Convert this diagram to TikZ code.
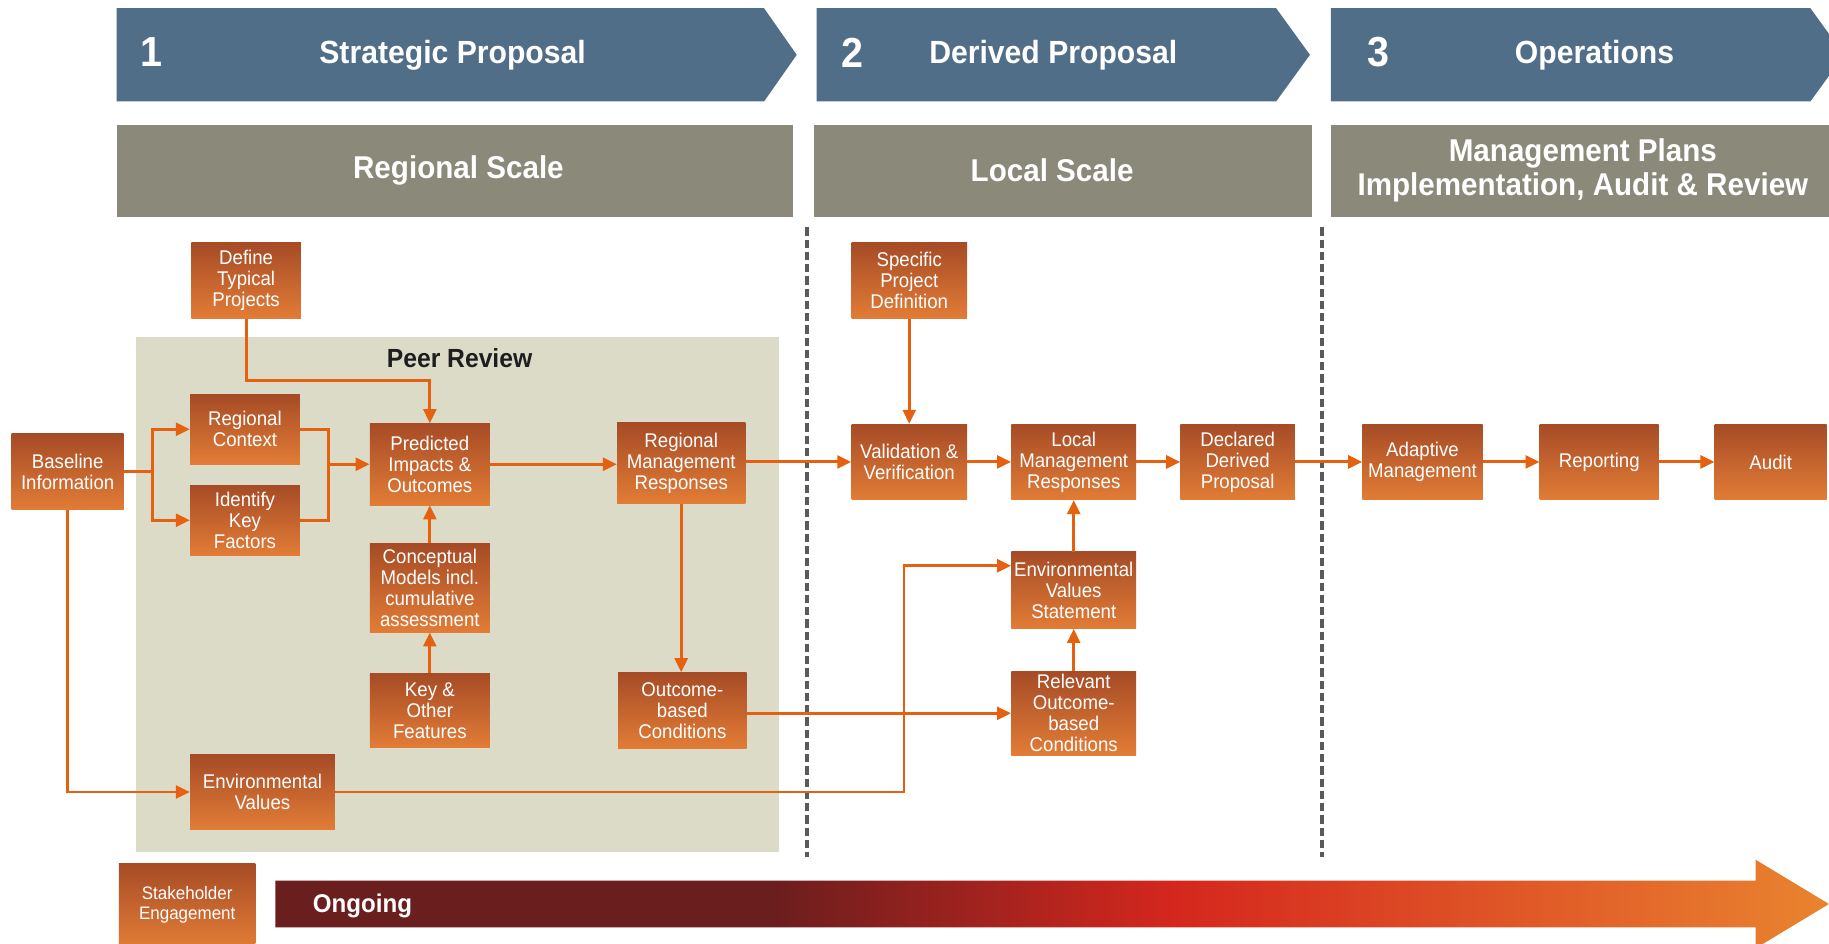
\documentclass[tikz,border=0pt]{standalone}
\usepackage{fontspec}
\setmainfont{Liberation Sans}
\newfontfamily\narrowsans[FakeStretch=0.94]{Liberation Sans}
\usetikzlibrary{arrows.meta}
\definecolor{bannerblue}{HTML}{506E88}
\definecolor{bandgray}{HTML}{8B8979}
\definecolor{peerbg}{HTML}{DCDBC8}
\definecolor{boxtop}{HTML}{A64B26}
\definecolor{boxbot}{HTML}{E27C36}
\definecolor{conn}{HTML}{E5600F}
\definecolor{dashgray}{HTML}{5A5A5A}
\definecolor{ogA}{HTML}{6B1E1E}
\definecolor{ogB}{HTML}{D5271E}
\definecolor{ogC}{HTML}{E9842F}
\definecolor{peertext}{HTML}{1E1E1E}
\pgfdeclarehorizontalshading{ongoing}{100bp}{color(0bp)=(ogA); color(25bp)=(ogA); color(41bp)=(ogA); color(54bp)=(ogB); color(75bp)=(ogC); color(100bp)=(ogC)}
\tikzset{
  box/.style={rectangle, top color=boxtop, bottom color=boxbot, text=white,
    font=\narrowsans\fontsize{17}{18}\selectfont, align=center, inner sep=0pt},
  arr/.style={draw=conn, line width=2.5pt, -{Triangle[length=12pt,width=11pt]}},
  ln/.style={draw=conn, line width=2.5pt},
  bannerfill/.style={fill=bannerblue},
  bandfill/.style={fill=bandgray},
  bannernum/.style={text=white, font=\narrowsans\fontsize{36}{36}\selectfont\bfseries, inner sep=0pt},
  bannertxt/.style={text=white, font=\narrowsans\fontsize{27.5}{30}\selectfont\bfseries, inner sep=0pt, align=center},
  bandtxt/.style={text=white, font=\narrowsans\fontsize{27}{29}\selectfont\bfseries, inner sep=0pt, align=center},
  sepline/.style={draw=dashgray, line width=3.5pt, dash pattern=on 7pt off 3.5pt},
}
\begin{document}
\begin{tikzpicture}[x=1pt,y=-1pt]
\clip (0,0) rectangle (1568,809);
\fill[white] (0,0) rectangle (1568,809);

% banners
\path[bannerfill] (100,7) -- (655,7) -- (683,47) -- (655,87) -- (100,87) -- cycle;
\path[bannerfill] (700,7) -- (1094,7) -- (1123,47) -- (1094,87) -- (700,87) -- cycle;
\path[bannerfill] (1141,7) -- (1552,7) -- (1581,47) -- (1552,87) -- (1141,87) -- cycle;
\node[bannernum] (n1) at (130,45) {1};
\node[bannertxt] (t1) at (388,47) {Strategic Proposal};
\node[bannernum] (n2) at (731,45) {2};
\node[bannertxt] (t2) at (903,47) {Derived Proposal};
\node[bannernum] (n3) at (1182,45) {3};
\node[bannertxt] (t3) at (1367,47) {Operations};

% bands
\path[bandfill] (100,107) rectangle (680,186);
\path[bandfill] (698,107) rectangle (1125,186);
\path[bandfill] (1141,107) rectangle (1570,186);
\node[bandtxt] (b1) at (393,146) {Regional Scale};
\node[bandtxt] (b2) at (902,146) {Local Scale};
\node[bandtxt] (b3) at (1357,146) {Management Plans\\Implementation, Audit \& Review};

% separators
\draw[sepline] (692,195) -- (692,735);
\draw[sepline] (1133,195) -- (1133,735);

% peer review panel
\fill[peerbg] (117,289) rectangle (668,730);
\node[text=peertext, font=\narrowsans\fontsize{22.5}{24}\selectfont\bfseries, inner sep=0pt] (peer) at (394,307) {Peer Review};

% boxes
\node[box, minimum width=94, minimum height=65] (def) at (211,240.5) {Define\\Typical\\Projects};
\node[box, minimum width=94, minimum height=60] (rc) at (210,368) {Regional\\Context};
\node[box, minimum width=96, minimum height=65] (base) at (58,404.5) {Baseline\\Information};
\node[box, minimum width=94, minimum height=60] (ikf) at (210,446) {Identify\\Key\\Factors};
\node[box, minimum width=103, minimum height=70] (pred) at (368.5,398) {Predicted\\Impacts \&\\Outcomes};
\node[box, minimum width=103, minimum height=76] (concept) at (368.5,504) {Conceptual\\Models incl.\\cumulative\\assessment};
\node[box, minimum width=103, minimum height=64] (key) at (368.5,609) {Key \&\\Other\\Features};
\node[box, minimum width=110, minimum height=69] (rmr) at (584,397) {Regional\\Management\\Responses};
\node[box, minimum width=110, minimum height=65] (obc) at (585,609) {Outcome-\\based\\Conditions};
\node[box, minimum width=124, minimum height=64] (ev) at (225,679) {Environmental\\Values};
\node[box, minimum width=99, minimum height=65] (spd) at (779.5,240.5) {Specific\\Project\\Definition};
\node[box, minimum width=99, minimum height=65] (vv) at (779.5,396) {Validation \&\\Verification};
\node[box, minimum width=107, minimum height=65] (lmr) at (920.5,396) {Local\\Management\\Responses};
\node[box, minimum width=98, minimum height=65] (ddp) at (1061,396) {Declared\\Derived\\Proposal};
\node[box, minimum width=107, minimum height=66] (evs) at (920.5,506) {Environmental\\Values\\Statement};
\node[box, minimum width=107, minimum height=72] (robc) at (920.5,611.5) {Relevant\\Outcome-\\based\\Conditions};
\node[box, minimum width=103, minimum height=65] (am) at (1219.5,396) {Adaptive\\Management};
\node[box, minimum width=102, minimum height=65] (rep) at (1371,396) {Reporting};
\node[box, minimum width=96, minimum height=65] (aud) at (1518,396) {Audit};
\node[box, minimum width=117, minimum height=72, font=\narrowsans\fontsize{15.5}{17}\selectfont] (se) at (160.5,776) {Stakeholder\\Engagement};

% ongoing arrow
\shade[shading=ongoing] (236,755) -- (1505,755) -- (1505,737) -- (1568,775) -- (1505,813) -- (1505,795) -- (236,795) -- cycle;
\node[text=white, font=\narrowsans\fontsize{22}{24}\selectfont\bfseries, anchor=west, inner sep=0pt] (ongo) at (268,777) {Ongoing};

% connectors
\coordinate (j1) at (131,404.5);
\coordinate (j2) at (282,398);
\coordinate (j4) at (775,485);
\draw[ln] (base.east) -- (j1);
\draw[arr] (j1) |- (rc.west);
\draw[arr] (j1) |- (ikf.west);
\draw[ln] (rc.east) -| (j2);
\draw[ln] (ikf.east) -| (j2);
\draw[arr] (j2) -- (pred.west);
\draw[arr] (def.south) -- ++(0,53) -| (pred.north);
\draw[arr] (pred.east) -- (pred.east -| rmr.west);
\draw[arr] (concept.north) -- (pred.south);
\draw[arr] (key.north) -- (concept.south);
\draw[arr] (rmr.south) -- (rmr.south |- obc.north);
\draw[arr] (rmr.east |- vv.west) -- (vv.west);
\draw[arr] (spd.south) -- (vv.north);
\draw[arr] (vv.east) -- (lmr.west);
\draw[arr] (lmr.east) -- (ddp.west);
\draw[arr] (ddp.east) -- (am.west);
\draw[arr] (am.east) -- (rep.west);
\draw[arr] (rep.east) -- (aud.west);
\draw[arr] (evs.north) -- (lmr.south);
\draw[arr] (robc.north) -- (evs.south);
\draw[arr] (obc.east |- robc.west) -- (robc.west);
\draw[arr] (base.south) |- (ev.west);
\draw[arr] (ev.east) -| (j4) -- (evs.west |- j4);
\end{tikzpicture}
\end{document}
